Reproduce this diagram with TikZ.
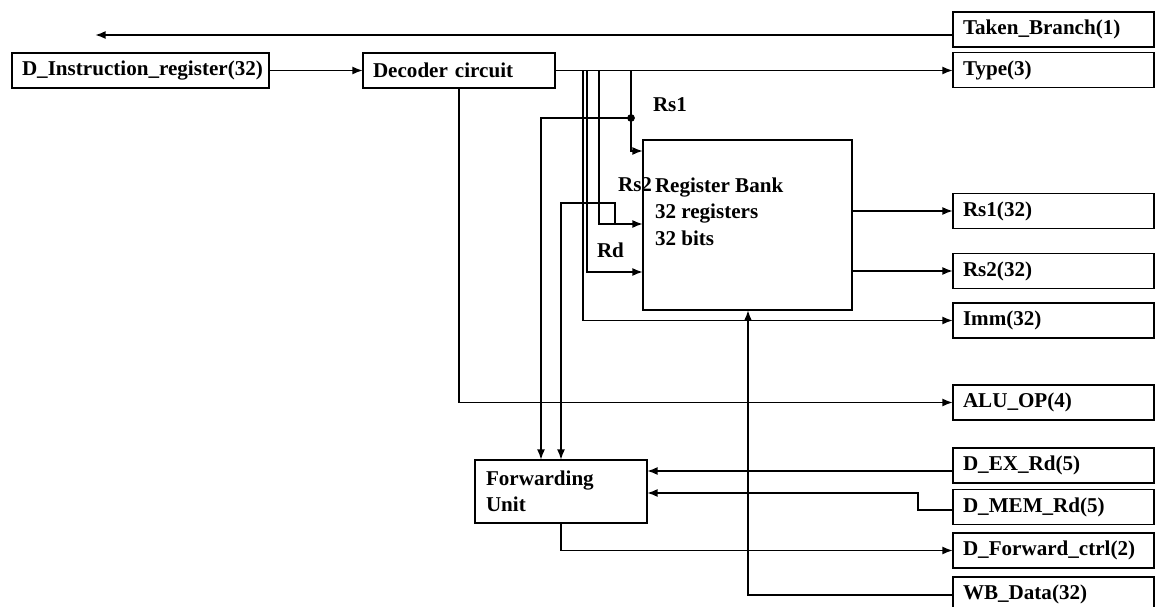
\documentclass[tikz,border=0pt]{standalone}
\usepackage{fontspec}
\setmainfont{Liberation Serif}
\usetikzlibrary{arrows.meta}
\begin{document}
\begin{tikzpicture}[x=0.02cm,y=-0.02cm,line width=1pt,
	>={Latex[length=6pt,width=4.5pt]},
	every node/.style={font=\fontsize{12}{15}\selectfont\bfseries,inner sep=0pt,outer sep=0pt},
	blk/.style={draw,line width=1.1pt,minimum height=0.7cm,text width=#1,inner xsep=0.2cm,align=left},
	port/.style={blk=3.62cm}]
	\useasboundingbox (0,0) rectangle (1157,607);
	\node[blk=4.74cm,align=center] (instr) at (140.5,70.5) {D\_Instruction\_register(32)};
	\node[blk=3.44cm] (dec) at (459,70.5) {Decoder circuit};
	\node[port] (taken) at (1053.5,29.5) {Taken\_Branch(1)};
	\node[port] (type) at (1053.5,70) {Type(3)};
	\node[port] (rs1o) at (1053.5,211) {Rs1(32)};
	\node[port] (rs2o) at (1053.5,271) {Rs2(32)};
	\node[port] (imm) at (1053.5,320.5) {Imm(32)};
	\node[port] (alu) at (1053.5,402.5) {ALU\_OP(4)};
	\node[port] (dex) at (1053.5,465.5) {D\_EX\_Rd(5)};
	\node[port] (dmem) at (1053.5,507) {D\_MEM\_Rd(5)};
	\node[port] (dfwd) at (1053.5,550.5) {D\_Forward\_ctrl(2)};
	\node[port] (wb) at (1053.5,594.5) {WB\_Data(32)};
	\node[draw,line width=1.1pt,minimum width=4.18cm,minimum height=3.4cm] (bank) at (747.5,225) {};
	\node[anchor=west,align=left] (banktxt) at (655,211.5) {Register Bank\\32 registers\\32 bits};
	\node[blk=3cm,inner xsep=0.22cm,minimum height=1.26cm] (fwd) at (561,491.5) {Forwarding\\Unit};
	\node[anchor=west] (lrs1) at (653,105) {Rs1};
	\node[anchor=east] (lrs2) at (652,185) {Rs2};
	\node[anchor=west] (lrd) at (597,250) {Rd};
	\coordinate (tip) at (95,35);
	\coordinate (j1) at (631,118);
	\coordinate (b1) at (541,118);
	\coordinate (b2) at (615,203);
	\coordinate (b3) at (561,203);
	\coordinate (r1) at (631,151);
	\coordinate (r2) at (599,224);
	\coordinate (r3) at (587,272);
	\coordinate (r4) at (583,320.5);
	\coordinate (d1) at (900,471);
	\coordinate (d2) at (918,493);
	\coordinate (d3) at (918,510);
	\coordinate (w1) at (748,595);
	\draw[->] (taken.west |- tip) -- (tip);
	\draw[->] (instr.east) -- (dec.west);
	\draw[->] (dec.east) -- (dec.east -| type.west);
	\draw[->] (dec.east) -| (r1) -- (r1 -| bank.west);
	\draw[->] (dec.east) -| (r2) -- (r2 -| bank.west);
	\draw[->] (dec.east) -| (r3) -- (r3 -| bank.west);
	\draw[->] (dec.east) -| (r4) -- (r4 -| imm.west);
	\draw[->] (dec.south) |- (alu.west);
	\fill (j1) circle (2.2pt);
	\draw[->] (j1) -- (b1) -- (b1 |- fwd.north);
	\draw[->] (b2 |- r2) -- (b2) -- (b3) -- (b3 |- fwd.north);
	\draw[->] (bank.east |- rs1o) -- (rs1o.west);
	\draw[->] (bank.east |- rs2o) -- (rs2o.west);
	\draw[->] (d1 -| dex.west) -- (d1 -| fwd.east);
	\draw[->] (d3 -| dmem.west) -- (d3) -- (d2) -- (d2 -| fwd.east);
	\draw[->] (fwd.south) |- (dfwd.west);
	\draw[->] (w1 -| wb.west) -- (w1) -- (w1 |- bank.south);
\end{tikzpicture}
\end{document}
